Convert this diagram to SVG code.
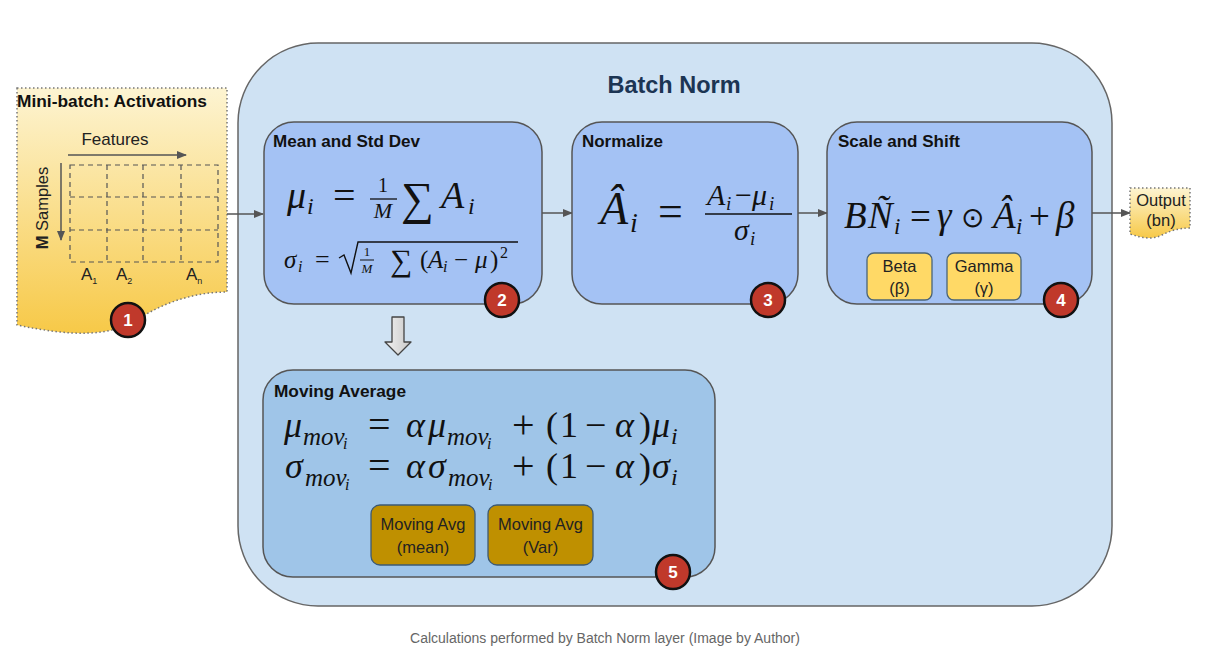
<svg xmlns="http://www.w3.org/2000/svg" width="1232" height="656" viewBox="0 0 1232 656">
<defs>
<linearGradient id="docg" x1="0" y1="0" x2="0" y2="1">
<stop offset="0" stop-color="#fdf4d2"/>
<stop offset="1" stop-color="#f7c948"/>
</linearGradient>
<linearGradient id="arrg" x1="0" y1="0" x2="1" y2="0">
<stop offset="0" stop-color="#f2f2f2"/>
<stop offset="1" stop-color="#c8c8c8"/>
</linearGradient>
<marker id="ah" viewBox="0 0 10 10" refX="9" refY="5" markerWidth="10" markerHeight="10" markerUnits="userSpaceOnUse" orient="auto">
<path d="M0,1 L10,5 L0,9 Z" fill="#555"/>
</marker>
<marker id="ah2" viewBox="0 0 10 10" refX="9" refY="5" markerWidth="12" markerHeight="10" markerUnits="userSpaceOnUse" orient="auto">
<path d="M0,1 L10,5 L0,9 Z" fill="#555"/>
</marker>
</defs>
<style>
.sans{font-family:"Liberation Sans",Arial,sans-serif}
.ttl{font-family:"Liberation Sans",Arial,sans-serif;font-weight:bold;font-size:16px;fill:#111}
.m{font-family:"Liberation Serif","Times New Roman",serif;font-style:italic;fill:#111}
.r{font-family:"Liberation Serif","Times New Roman",serif;font-style:normal;fill:#111}
.box{fill:#a4c2f4;stroke:#555;stroke-width:1.5}
.badge circle{fill:#c0392b;stroke:#111;stroke-width:2.5}
.badge text{font-family:"Liberation Sans",Arial,sans-serif;font-weight:bold;font-size:17px;fill:#fff;text-anchor:middle}
.conn{stroke:#555;stroke-width:1.5;fill:none}
.grid{stroke:#555;stroke-width:1.2;stroke-dasharray:5,4;fill:none}
.lbl{font-family:"Liberation Sans",Arial,sans-serif;font-size:16.5px;fill:#222;text-anchor:middle}
</style>
<rect width="1232" height="656" fill="#ffffff"/>

<g id="batchnorm">
<rect x="238" y="43" width="874" height="563" rx="80" ry="80" fill="#cfe2f3" stroke="#666" stroke-width="1.5"/>
<text x="674" y="93" text-anchor="middle" class="sans" font-weight="bold" font-size="23.5" fill="#1c3553">Batch Norm</text>
</g>

<g id="minibatch">
<path d="M17,88 H227 V292 C196,292 165,302 140,318 C110,338 70,336 17,325 Z" fill="url(#docg)" stroke="#777" stroke-width="1.5" stroke-dasharray="1.5,2.5"/>
<text x="17" y="107" class="sans" font-weight="bold" font-size="16.5" fill="#111" textLength="190" lengthAdjust="spacingAndGlyphs">Mini-batch: Activations</text>
<text x="115" y="145" class="sans" font-size="17" fill="#222" text-anchor="middle">Features</text>
<line x1="68" y1="155" x2="186" y2="155" class="conn" marker-end="url(#ah)"/>
<line x1="61" y1="163" x2="61" y2="240" class="conn" marker-end="url(#ah)"/>
<text transform="translate(48,208) rotate(-90)" class="sans" font-size="16.5" fill="#222" text-anchor="middle"><tspan font-weight="bold">M</tspan> Samples</text>
<rect x="70" y="165" width="148" height="97" class="grid"/>
<line x1="107" y1="165" x2="107" y2="262" class="grid"/>
<line x1="143" y1="165" x2="143" y2="262" class="grid"/>
<line x1="181" y1="165" x2="181" y2="262" class="grid"/>
<line x1="70" y1="197" x2="218" y2="197" class="grid"/>
<line x1="70" y1="230" x2="218" y2="230" class="grid"/>
<text x="81" y="280" class="sans" font-size="17" fill="#222">A<tspan font-size="9" dy="4">1</tspan></text>
<text x="116" y="280" class="sans" font-size="17" fill="#222">A<tspan font-size="9" dy="4">2</tspan></text>
<text x="186" y="280" class="sans" font-size="17" fill="#222">A<tspan font-size="9" dy="4">n</tspan></text>
<g class="badge"><circle cx="128" cy="320" r="17"/><text x="128" y="326">1</text></g>
</g>

<g id="output">
<path d="M1130,188 H1190 V228 C1178,228 1170,231 1162,235 C1152,240 1142,238 1130,234 Z" fill="url(#docg)" stroke="#777" stroke-width="1.5" stroke-dasharray="1.5,2.5"/>
<text x="1161" y="206" class="lbl">Output</text>
<text x="1161" y="226" class="lbl">(bn)</text>
</g>

<g id="connectors">
<line x1="227" y1="214" x2="263" y2="214" class="conn" marker-end="url(#ah2)"/>
<line x1="542" y1="213" x2="572" y2="213" class="conn" marker-end="url(#ah2)"/>
<line x1="798" y1="213" x2="827" y2="213" class="conn" marker-end="url(#ah2)"/>
<line x1="1092" y1="213" x2="1130" y2="213" class="conn" marker-end="url(#ah2)"/>
<path d="M392,317 H404 V342 H411 L398,355 L385,342 H392 Z" fill="url(#arrg)" stroke="#444" stroke-width="1.3" stroke-linejoin="round"/>
</g>

<g id="meanstd">
<rect x="264" y="122" width="278" height="182" rx="30" class="box"/>
<text x="273" y="147" class="ttl" textLength="147" lengthAdjust="spacingAndGlyphs">Mean and Std Dev</text>
<text x="287" y="208" class="m" font-size="38">μ</text>
<text x="307" y="214" class="m" font-size="24">i</text>
<text x="333" y="209" class="r" font-size="40">=</text>
<text x="383" y="192" class="r" font-size="20" text-anchor="middle">1</text>
<line x1="370" y1="199" x2="397" y2="199" stroke="#111" stroke-width="1.3"/>
<text x="383" y="218" class="m" font-size="22" text-anchor="middle">M</text>
<text x="401" y="214" class="r" font-size="46">∑</text>
<text x="441" y="208" class="m" font-size="38">A</text>
<text x="468" y="214" class="m" font-size="24">i</text>
<text x="284" y="268" class="m" font-size="25">σ</text>
<text x="298" y="272" class="m" font-size="16">i</text>
<text x="315" y="268" class="r" font-size="26">=</text>
<path d="M339,258 L344,255 L351,273 L358,242 H518" fill="none" stroke="#111" stroke-width="1.4"/>
<text x="367" y="256" class="r" font-size="13" text-anchor="middle">1</text>
<line x1="360" y1="260" x2="374" y2="260" stroke="#111" stroke-width="1"/>
<text x="367" y="273" class="m" font-size="13" text-anchor="middle">M</text>
<text x="390" y="271" class="r" font-size="31">∑</text>
<text x="420" y="268" class="r" font-size="25">(</text>
<text x="428" y="268" class="m" font-size="25">A</text>
<text x="443" y="272" class="m" font-size="16">i</text>
<text x="454" y="268" class="r" font-size="25">−</text>
<text x="475" y="268" class="m" font-size="25">μ</text>
<text x="490" y="268" class="r" font-size="25">)</text>
<text x="500" y="258" class="r" font-size="16">2</text>
<g class="badge"><circle cx="502" cy="300" r="17"/><text x="502" y="306">2</text></g>
</g>

<g id="normalize">
<rect x="572" y="122" width="226" height="182" rx="30" class="box"/>
<text x="582" y="147" class="ttl" textLength="81" lengthAdjust="spacingAndGlyphs">Normalize</text>
<text x="600" y="224" class="m" font-size="46">Â</text>
<text x="630" y="232" class="m" font-size="28">i</text>
<text x="658" y="226" class="r" font-size="44">=</text>
<text x="707" y="205" class="m" font-size="30">A</text>
<text x="726" y="210" class="m" font-size="19">i</text>
<text x="735" y="205" class="r" font-size="30">−</text>
<text x="752" y="205" class="m" font-size="30">μ</text>
<text x="769" y="210" class="m" font-size="19">i</text>
<line x1="705" y1="214" x2="792" y2="214" stroke="#111" stroke-width="1.6"/>
<text x="734" y="240" class="m" font-size="30">σ</text>
<text x="750" y="245" class="m" font-size="19">i</text>
<g class="badge"><circle cx="768" cy="300" r="17"/><text x="768" y="306">3</text></g>
</g>

<g id="scaleshift">
<rect x="827" y="122" width="265" height="182" rx="30" class="box"/>
<text x="838" y="147" class="ttl" textLength="122" lengthAdjust="spacingAndGlyphs">Scale and Shift</text>
<text x="844" y="228" class="m" font-size="37">B</text>
<text x="868" y="228" class="m" font-size="37">Ñ</text>
<text x="894" y="234" class="m" font-size="23">i</text>
<text x="910" y="229" class="r" font-size="37">=</text>
<text x="937" y="228" class="m" font-size="37">γ</text>
<text x="972" y="227" class="r" font-size="28" text-anchor="middle">⊙</text>
<text x="993" y="228" class="m" font-size="37">Â</text>
<text x="1016" y="234" class="m" font-size="23">i</text>
<text x="1029" y="229" class="r" font-size="37">+</text>
<text x="1056" y="228" class="m" font-size="37">β</text>
<g id="beta"><rect x="867" y="253" width="65" height="47" rx="7" fill="#ffd966" stroke="#4a6478" stroke-width="1.3"/>
<text x="899.5" y="272" class="lbl">Beta</text><text x="899.5" y="294" class="lbl">(β)</text></g>
<g id="gamma"><rect x="947" y="253" width="74" height="47" rx="7" fill="#ffd966" stroke="#4a6478" stroke-width="1.3"/>
<text x="984" y="272" class="lbl">Gamma</text><text x="984" y="294" class="lbl">(γ)</text></g>
<g class="badge"><circle cx="1061" cy="300" r="17"/><text x="1061" y="306">4</text></g>
</g>

<g id="movingavg">
<rect x="263" y="370" width="452" height="207" rx="30" fill="#9fc5e8" stroke="#555" stroke-width="1.5"/>
<text x="274" y="397" class="ttl" textLength="132" lengthAdjust="spacingAndGlyphs">Moving Average</text>
<g font-size="36">
<text x="284" y="437" class="m">μ</text>
<text x="303" y="445" class="m" font-size="25">mov</text>
<text x="343" y="449" class="m" font-size="16">i</text>
<text x="368" y="438" class="r" font-size="40">=</text>
<text x="406" y="437" class="m">α</text>
<text x="428" y="437" class="m">μ</text>
<text x="447" y="445" class="m" font-size="25">mov</text>
<text x="487" y="449" class="m" font-size="16">i</text>
<text x="512" y="438" class="r" font-size="40">+</text>
<text x="546" y="437" class="r">(</text>
<text x="560" y="437" class="r">1</text>
<text x="585" y="438" class="r" font-size="38">−</text>
<text x="615" y="437" class="m">α</text>
<text x="639" y="437" class="r">)</text>
<text x="652" y="437" class="m">μ</text>
<text x="671" y="444" class="m" font-size="24">i</text>

<text x="285" y="478" class="m">σ</text>
<text x="305" y="486" class="m" font-size="25">mov</text>
<text x="345" y="490" class="m" font-size="16">i</text>
<text x="368" y="479" class="r" font-size="40">=</text>
<text x="406" y="478" class="m">α</text>
<text x="428" y="478" class="m">σ</text>
<text x="448" y="486" class="m" font-size="25">mov</text>
<text x="488" y="490" class="m" font-size="16">i</text>
<text x="512" y="479" class="r" font-size="40">+</text>
<text x="546" y="478" class="r">(</text>
<text x="560" y="478" class="r">1</text>
<text x="585" y="479" class="r" font-size="38">−</text>
<text x="615" y="478" class="m">α</text>
<text x="639" y="478" class="r">)</text>
<text x="652" y="478" class="m">σ</text>
<text x="671" y="485" class="m" font-size="24">i</text>
</g>
<g id="mavgmean"><rect x="371" y="505" width="104" height="60" rx="9" fill="#bf9000" stroke="#3d5a73" stroke-width="1.3"/>
<text x="423" y="530" class="lbl" font-size="17">Moving Avg</text><text x="423" y="553" class="lbl" font-size="17">(mean)</text></g>
<g id="mavgvar"><rect x="488" y="505" width="105" height="60" rx="9" fill="#bf9000" stroke="#3d5a73" stroke-width="1.3"/>
<text x="540.5" y="530" class="lbl" font-size="17">Moving Avg</text><text x="540.5" y="553" class="lbl" font-size="17">(Var)</text></g>
<g class="badge"><circle cx="673" cy="572" r="17"/><text x="673" y="578">5</text></g>
</g>

<text x="605" y="643" class="sans" font-size="14" fill="#666" text-anchor="middle">Calculations performed by Batch Norm layer (Image by Author)</text>
</svg>
